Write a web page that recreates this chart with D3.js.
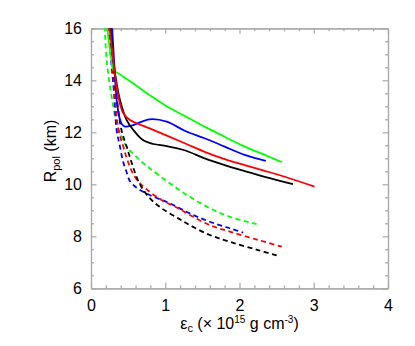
<!DOCTYPE html>
<html>
<head>
<meta charset="utf-8">
<script src="https://cdn.jsdelivr.net/npm/d3@7"></script>
<style>
  body { margin: 0; background: #fff; }
  svg { display: block; font-family: "Liberation Sans", Arial, sans-serif; }
</style>
</head>
<body>
<div id="chart"></div>
<script>
// central energy density (10^15 g/cm^3) vs polar radius (km)
const solidBlack = [[0.25,16.4],[0.265,16.0],[0.30,14.78],[0.35,13.8],[0.39,13.24],[0.48,12.47],[0.57,12.09],[0.70,11.70],[0.84,11.55],[1.02,11.47],[1.27,11.3],[1.53,11.0],[1.80,10.74],[2.07,10.51],[2.34,10.29],[2.72,10.01]];
const solidRed   = [[0.235,16.4],[0.25,16.0],[0.30,14.78],[0.345,13.75],[0.39,13.1],[0.435,12.73],[0.525,12.47],[0.79,12.15],[1.27,11.57],[1.53,11.25],[1.80,10.97],[2.07,10.74],[2.34,10.52],[2.61,10.29],[3.01,9.91]];
const solidBlue  = [[0.275,16.4],[0.285,16.0],[0.31,14.78],[0.33,13.8],[0.346,13.24],[0.38,12.6],[0.42,12.3],[0.458,12.22],[0.57,12.28],[0.79,12.50],[1.02,12.41],[1.27,12.05],[1.53,11.77],[1.80,11.45],[2.07,11.13],[2.355,10.90]];
const solidGreen = [[0.21,16.4],[0.22,16.0],[0.25,15.3],[0.28,14.7],[0.30,14.40],[0.40,14.21],[0.48,14.05],[0.57,13.88],[0.79,13.43],[1.03,12.98],[1.30,12.57],[1.53,12.22],[1.80,11.83],[2.07,11.45],[2.34,11.13],[2.57,10.85]];

const dashBlack = [[0.24,16.4],[0.25,16.0],[0.29,14.8],[0.34,13.5],[0.41,12.09],[0.48,11.45],[0.55,10.81],[0.65,10.05],[0.78,9.5],[0.95,9.08],[1.175,8.69],[1.33,8.43],[1.60,8.05],[1.87,7.79],[2.25,7.47],[2.53,7.24]];
const dashRed   = [[0.23,16.4],[0.24,16.0],[0.28,14.8],[0.32,13.5],[0.37,12.09],[0.435,11.45],[0.50,10.85],[0.59,10.29],[0.73,9.85],[0.95,9.40],[1.175,9.08],[1.33,8.82],[1.60,8.43],[1.87,8.18],[2.25,7.86],[2.57,7.60]];
const dashBlue  = [[0.225,16.4],[0.235,16.0],[0.27,14.8],[0.31,13.5],[0.345,12.09],[0.39,11.45],[0.43,10.9],[0.47,10.55],[0.525,10.12],[0.615,9.87],[0.79,9.59],[1.06,9.27],[1.33,8.88],[1.60,8.56],[1.87,8.31],[2.05,8.14]];
const dashGreen = [[0.175,16.4],[0.185,16.0],[0.21,14.8],[0.27,13.5],[0.36,12.22],[0.48,11.45],[0.57,11.17],[0.66,10.92],[0.79,10.62],[1.06,10.04],[1.33,9.52],[1.60,9.08],[1.87,8.75],[2.23,8.47]];

const xMajor = [0, 1, 2, 3, 4];
const yMajor = [6, 8, 10, 12, 14, 16];

const series = [
  { pts: dashGreen, color: "#00ff00", dash: true },
  { pts: dashBlue, color: "#0000ff", dash: true },
  { pts: dashRed, color: "#ff0000", dash: true },
  { pts: dashBlack, color: "#000000", dash: true },
  { pts: solidGreen, color: "#00ff00", dash: false },
  { pts: solidBlue, color: "#0000ff", dash: false },
  { pts: solidBlack, color: "#000000", dash: false },
  { pts: solidRed, color: "#ff0000", dash: false }
];

const W = 415, H = 346;
const margin = { top: 28.3, right: 27, bottom: 57.7, left: 91 };
const iw = W - margin.left - margin.right;
const ih = H - margin.top - margin.bottom;

const x = d3.scaleLinear().domain([0, 4]).range([0, iw]);
const y = d3.scaleLinear().domain([6, 16]).range([ih, 0]);

const svg = d3.select("#chart").append("svg")
    .attr("width", W)
    .attr("height", H);

const g = svg.append("g")
    .attr("transform", `translate(${margin.left},${margin.top})`);

g.append("clipPath").attr("id", "clip")
  .append("rect").attr("width", iw).attr("height", ih);

// axes: IDL-style box with inward ticks on all four sides
const axisColor = "#a8a8a8";
const xMinor = d3.range(0, 4.001, 0.2).filter(v => Math.abs(v - Math.round(v)) > 1e-6);
const yMinor = d3.range(6, 16.001, 0.5).filter(v => Math.abs(v / 2 - Math.round(v / 2)) > 1e-6);

function styleAxis(sel) {
  sel.select(".domain").attr("stroke", axisColor).attr("stroke-width", 1.2);
  sel.selectAll(".tick line").attr("stroke", axisColor).attr("stroke-width", 1.2);
  sel.selectAll(".tick text").attr("fill", "#000").attr("font-size", 16);
}

// minor ticks first
g.append("g").attr("transform", `translate(0,${ih})`)
  .call(d3.axisBottom(x).tickValues(xMinor).tickSize(-3).tickSizeOuter(0).tickFormat(""))
  .call(styleAxis);
g.append("g")
  .call(d3.axisTop(x).tickValues(xMinor).tickSize(-3).tickSizeOuter(0).tickFormat(""))
  .call(styleAxis);
g.append("g")
  .call(d3.axisLeft(y).tickValues(yMinor).tickSize(-3).tickSizeOuter(0).tickFormat(""))
  .call(styleAxis);
g.append("g").attr("transform", `translate(${iw},0)`)
  .call(d3.axisRight(y).tickValues(yMinor).tickSize(-3).tickSizeOuter(0).tickFormat(""))
  .call(styleAxis);

// major ticks with labels
g.append("g").attr("transform", `translate(0,${ih})`)
  .call(d3.axisBottom(x).tickValues(xMajor).tickSize(-5.5).tickSizeOuter(0).tickPadding(11).tickFormat(d3.format("d")))
  .call(styleAxis);
g.append("g")
  .call(d3.axisTop(x).tickValues(xMajor).tickSize(-5.5).tickSizeOuter(0).tickFormat(""))
  .call(styleAxis);
g.append("g")
  .call(d3.axisLeft(y).tickValues(yMajor).tickSize(-5.5).tickSizeOuter(0).tickPadding(9).tickFormat(d3.format("d")))
  .call(styleAxis);
g.append("g").attr("transform", `translate(${iw},0)`)
  .call(d3.axisRight(y).tickValues(yMajor).tickSize(-5.5).tickSizeOuter(0).tickFormat(""))
  .call(styleAxis);

// curves
const line = d3.line()
    .x(d => x(d[0]))
    .y(d => y(d[1]))
    .curve(d3.curveCatmullRom.alpha(0.5));

g.append("g").attr("clip-path", "url(#clip)")
  .selectAll("path")
  .data(series)
  .join("path")
    .attr("d", d => line(d.pts))
    .attr("fill", "none")
    .attr("stroke", d => d.color)
    .attr("stroke-width", 1.8)
    .attr("stroke-dasharray", d => d.dash ? "5,3.5" : null);

// axis titles
const xt = svg.append("text")
    .attr("x", margin.left + iw / 2)
    .attr("y", 329)
    .attr("text-anchor", "middle")
    .attr("font-size", 16);
xt.append("tspan").text("ε");
xt.append("tspan").attr("font-size", 11).attr("dy", 3).text("c");
xt.append("tspan").attr("dy", -3).text(" (× 10");
xt.append("tspan").attr("font-size", 10).attr("dy", -6).text("15");
xt.append("tspan").attr("dy", 6).text(" g cm");
xt.append("tspan").attr("font-size", 10).attr("dy", -6).text("-3");
xt.append("tspan").attr("dy", 6).text(")");

const yt = svg.append("text")
    .attr("transform", `translate(56,151) rotate(-90)`)
    .attr("text-anchor", "middle")
    .attr("font-size", 16);
yt.append("tspan").text("R");
yt.append("tspan").attr("font-size", 11).attr("dy", 4).text("pol");
yt.append("tspan").attr("dy", -4).text(" (km)");
</script>
</body>
</html>
